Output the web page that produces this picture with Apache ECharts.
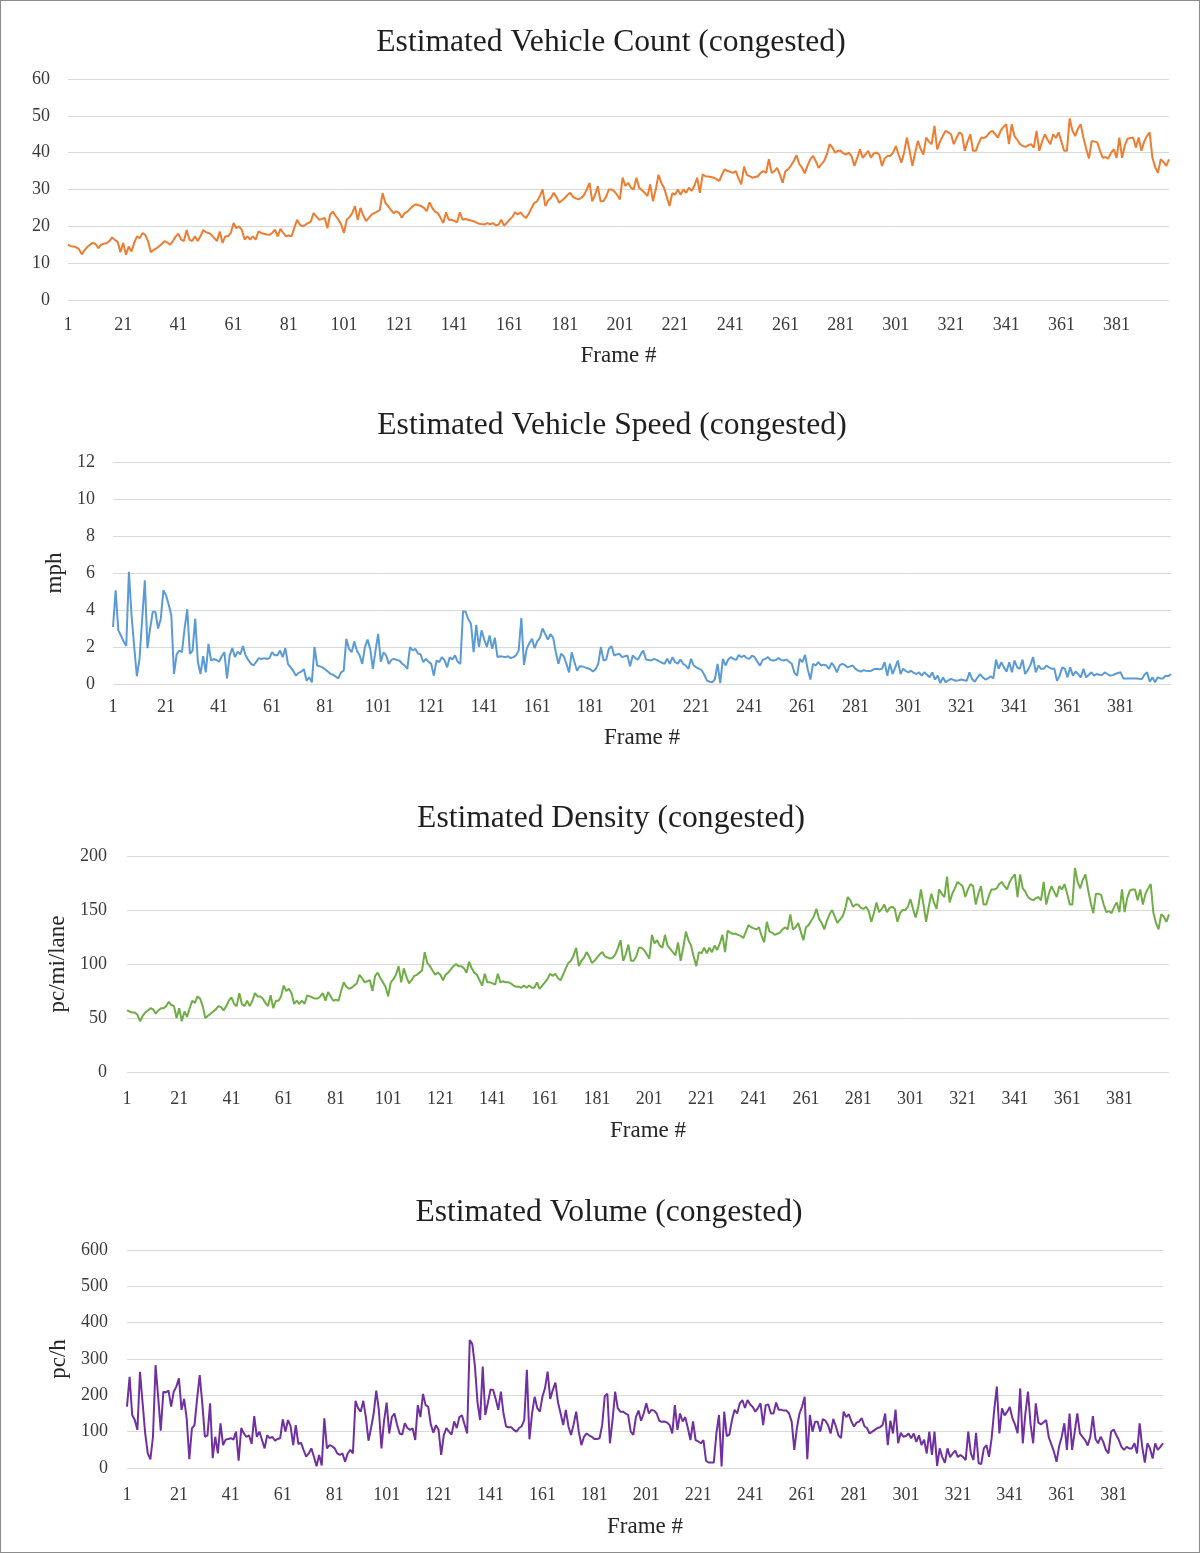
<!DOCTYPE html>
<html><head><meta charset="utf-8">
<script src="https://cdn.jsdelivr.net/npm/echarts@6/dist/echarts.min.js"></script>
<style>
html,body{margin:0;padding:0;background:#fff;}
#c{position:absolute;left:0;top:0;width:1200px;height:1553px;}
#b{position:absolute;left:0;top:0;width:1200px;height:1553px;box-sizing:border-box;border:1px solid #8c8c8c;pointer-events:none;}
</style></head><body><div id="c"></div><div id="b"></div>
<script>
const frames = Array.from({length: 400}, (_, i) => String(i + 1));

const vehicleCount = [
15.0,14.6,14.5,14.3,13.8,12.4,13.5,14.4,15.0,15.5,15.2,14.1,15.0,15.3,15.4,16.0,17.0,16.3,15.8,13.0,
15.5,12.3,14.5,13.2,15.5,17.3,16.8,18.2,17.7,16.0,13.0,13.6,14.0,14.6,15.2,16.0,15.6,15.0,16.0,17.2,
18.0,16.4,16.0,19.0,16.4,16.0,17.3,16.0,17.3,19.0,18.4,18.2,17.7,16.8,16.0,18.6,15.5,17.3,17.3,18.2,
20.9,19.5,20.0,19.0,16.4,17.3,16.4,17.3,16.4,18.6,18.2,18.0,17.8,17.7,18.2,19.1,17.3,19.3,18.2,17.3,
17.5,17.3,19.5,21.8,20.5,20.0,20.4,20.9,21.3,23.6,22.7,21.8,22.0,22.3,19.5,23.2,24.0,22.8,21.8,20.5,
18.2,21.8,22.5,23.6,25.5,21.8,25.0,23.0,21.4,22.3,23.2,23.6,24.0,24.5,29.0,26.4,25.5,24.5,23.6,24.1,
23.6,22.3,23.6,24.0,24.8,25.5,26.0,25.7,25.5,25.0,24.1,26.5,25.0,24.0,23.6,22.3,20.9,23.8,21.8,21.8,
21.5,21.1,23.8,21.8,22.0,21.8,21.6,21.4,21.0,20.7,20.6,20.5,20.9,20.5,20.9,20.3,20.4,21.8,20.2,20.9,
21.8,22.5,23.8,23.2,23.8,22.8,22.3,23.5,25.0,26.4,26.8,28.2,30.0,25.5,27.0,27.7,29.1,28.0,26.4,27.0,
27.7,28.5,29.1,28.0,27.6,27.3,27.7,28.5,30.0,31.8,26.8,28.5,30.9,26.8,26.8,28.0,30.0,30.0,29.5,28.5,
27.3,33.2,31.0,31.8,30.5,30.0,33.2,30.5,29.8,29.1,28.2,31.4,26.8,30.0,34.0,31.8,30.5,28.0,25.5,29.0,
28.6,30.0,28.6,30.0,29.1,30.5,29.6,31.0,33.2,29.1,34.1,33.6,33.5,33.4,33.2,32.8,32.3,34.0,35.5,35.0,
34.8,34.5,35.0,33.0,31.4,36.2,34.0,33.6,33.2,33.4,33.6,34.5,35.0,34.5,38.2,34.5,35.0,35.9,34.0,31.8,
35.0,35.5,36.5,37.7,39.3,37.0,35.9,34.4,36.5,38.2,39.1,37.7,35.9,36.8,37.7,39.5,42.3,41.4,40.0,40.5,
40.5,39.8,39.5,40.0,39.0,36.4,38.5,40.9,38.6,39.5,40.5,38.6,39.8,40.0,39.5,36.4,38.5,39.1,39.1,40.0,
41.8,39.5,37.3,40.0,44.1,40.5,36.4,40.0,43.2,41.0,39.5,44.1,43.0,42.3,47.3,40.9,43.0,44.5,45.9,45.5,
45.0,42.3,44.0,45.5,45.0,40.5,43.0,45.0,40.5,40.5,42.5,44.1,44.0,44.5,45.5,45.9,45.0,44.1,45.9,47.0,
47.7,42.3,47.7,44.5,43.5,42.3,41.8,41.6,42.0,42.3,41.4,45.9,40.5,43.0,45.0,43.5,42.3,45.0,44.0,45.5,
43.0,40.5,40.5,49.3,46.0,44.5,46.5,47.7,44.0,41.0,38.4,43.2,43.0,42.8,40.5,38.6,38.8,38.4,40.0,40.9,
38.6,44.1,38.6,42.0,43.8,44.0,44.1,41.4,44.1,40.5,43.0,44.5,45.5,38.6,36.0,34.5,38.2,37.5,36.4,38.2
];

const vehicleSpeed = [
3.08,5.07,2.9,2.62,2.3,2.05,6.06,3.7,2.0,0.42,1.36,3.5,5.6,1.94,3.0,3.9,3.9,3.0,3.5,5.07,
4.8,4.3,3.7,0.54,1.6,1.81,1.72,3.0,4.04,1.63,1.8,3.53,1.2,0.54,1.5,0.63,2.17,1.27,1.35,1.3,
1.2,1.5,1.72,0.3,1.55,1.94,1.45,1.75,1.6,2.05,1.55,1.3,1.1,1.0,1.2,1.4,1.35,1.4,1.35,1.4,
1.72,1.55,1.55,1.81,1.45,1.94,1.08,0.9,0.7,0.45,0.6,0.67,0.8,0.18,0.36,0.09,2.0,1.0,0.95,0.9,
0.8,0.67,0.55,0.5,0.4,0.3,0.63,0.72,2.44,1.9,1.72,2.3,1.8,1.55,1.09,2.0,2.4,1.9,0.82,1.8,
2.71,1.2,1.7,1.55,1.09,1.3,1.36,1.3,1.27,1.1,1.0,0.82,2.0,1.81,1.9,1.65,1.6,1.18,1.36,1.2,
1.09,0.45,1.27,1.18,1.45,1.3,0.9,1.45,1.32,1.55,1.2,1.09,3.93,3.9,3.5,3.26,1.72,3.2,2.0,2.9,
2.4,2.0,2.62,1.9,2.5,1.45,1.5,1.48,1.45,1.5,1.4,1.45,1.55,1.81,3.57,1.03,1.9,2.2,2.44,1.94,
2.3,2.5,3.0,2.7,2.4,2.7,2.5,1.72,1.09,1.63,1.5,1.09,0.63,1.72,1.2,0.72,0.96,0.95,0.9,0.85,
0.8,0.67,0.8,1.09,2.0,1.27,1.32,1.9,2.05,1.54,1.6,1.63,1.45,1.5,1.54,0.96,1.54,1.4,1.32,1.6,
1.81,1.32,1.3,1.27,1.36,1.3,1.22,1.15,1.09,1.36,1.09,1.45,1.18,1.1,1.32,1.09,1.0,0.82,1.36,1.0,
0.9,0.82,0.75,0.5,0.18,0.12,0.09,0.27,1.09,0.05,1.36,1.0,1.32,1.45,1.36,1.3,1.57,1.45,1.54,1.4,
1.36,1.54,1.45,1.2,0.99,1.3,1.36,1.45,1.3,1.27,1.3,1.4,1.3,1.27,1.32,1.2,1.09,0.6,0.45,1.36,
1.18,1.57,0.8,0.24,1.09,1.0,1.18,1.0,1.05,1.0,0.82,1.14,0.95,0.63,1.0,1.09,1.03,0.9,0.95,1.0,
0.82,0.72,0.67,0.75,0.72,0.7,0.72,0.8,0.82,0.8,0.82,1.18,0.45,1.09,0.54,0.9,1.27,0.54,0.82,0.7,
0.63,0.72,0.6,0.54,0.63,0.45,0.63,0.5,0.36,0.63,0.24,0.45,0.05,0.36,0.09,0.2,0.27,0.22,0.18,0.2,
0.24,0.2,0.18,0.63,0.27,0.12,0.35,0.54,0.36,0.24,0.3,0.42,0.3,1.32,0.82,1.18,0.9,0.67,1.18,0.63,
1.27,0.9,0.82,1.32,0.54,0.75,1.03,1.45,0.63,1.0,0.82,0.82,1.0,0.9,0.82,0.82,0.18,0.45,0.9,0.82,
0.36,0.9,0.45,0.67,0.54,0.36,0.82,0.36,0.5,0.63,0.45,0.54,0.5,0.48,0.63,0.54,0.45,0.48,0.54,0.6,
0.63,0.3,0.3,0.3,0.3,0.3,0.3,0.28,0.27,0.5,0.63,0.12,0.36,0.09,0.36,0.3,0.3,0.45,0.42,0.54
];

const density = [
57,56,55,55,53,47,52,55,57,59,58,54,57,59,59,61,65,62,61,50,
59,47,56,51,59,66,64,70,68,61,50,52,54,56,58,61,60,57,61,66,
69,63,61,73,63,61,66,61,66,73,70,70,68,64,61,71,59,66,66,70,
80,75,77,73,63,66,63,66,63,71,70,69,68,68,70,73,66,74,70,66,
67,66,75,83,79,77,78,80,82,90,87,83,84,85,75,89,92,87,83,79,
70,83,86,90,98,83,96,88,82,85,89,90,92,94,111,101,98,94,90,92,
90,85,90,92,95,98,100,98,98,96,92,102,96,92,90,85,80,91,83,83,
82,81,91,83,84,83,83,82,80,79,79,78,80,78,80,78,78,83,77,80,
83,86,91,89,91,87,85,90,96,101,103,108,115,98,103,106,111,107,101,103,
106,109,111,107,106,105,106,109,115,122,103,109,118,103,103,107,115,115,113,109,
105,127,119,122,117,115,127,117,114,111,108,120,103,115,130,122,117,107,98,111,
110,115,110,115,111,117,113,119,127,111,131,129,128,128,127,126,124,130,136,134,
133,132,134,126,120,139,130,129,127,128,129,132,134,132,146,132,134,138,130,122,
134,136,140,144,151,142,138,132,140,146,150,144,138,141,144,151,162,159,153,155,
155,152,151,153,149,139,147,157,148,151,155,148,152,153,151,139,147,150,150,153,
160,151,143,153,169,155,139,153,165,157,151,169,165,162,181,157,165,170,176,174,
172,162,169,174,172,155,165,172,155,155,163,169,169,170,174,176,172,169,176,180,
183,162,183,170,167,162,160,159,161,162,159,176,155,165,172,167,162,172,169,174,
165,155,155,189,176,170,178,183,169,157,147,165,165,164,155,148,149,147,153,157,
148,169,148,161,168,169,169,159,169,155,165,170,174,148,138,132,146,144,139,146
];

const volume = [
169,251,146,132,105,265,180,95,40,24,86,283,196,103,210,208,213,169,210,224,
247,160,190,135,24,109,118,190,256,178,86,90,178,27,86,40,123,63,78,80,
82,78,100,20,110,95,86,90,66,143,86,100,77,54,90,82,86,75,80,82,
134,100,132,115,63,118,66,70,50,31,40,54,31,5,36,7,137,54,63,60,
54,40,36,40,17,40,50,40,185,165,155,185,140,75,110,150,213,160,54,130,
180,95,140,150,120,95,92,123,110,105,109,77,173,140,204,173,169,120,97,118,
105,36,90,110,100,92,128,110,140,145,120,95,352,341,280,180,132,279,146,180,
216,215,190,160,210,150,114,112,112,105,100,110,115,132,270,79,150,196,165,155,
196,220,265,190,215,235,180,150,118,160,115,91,120,155,100,63,86,95,90,86,
80,80,82,118,198,204,68,132,210,165,155,155,150,146,100,91,140,158,130,150,
178,150,160,158,150,130,127,128,125,118,95,173,105,150,128,140,110,77,128,77,
73,68,77,20,15,15,15,95,146,4,155,88,92,132,160,150,178,187,165,187,
175,168,155,165,178,118,173,175,150,150,180,160,160,158,158,150,127,50,110,150,
169,196,24,146,100,127,127,100,135,130,118,95,135,115,90,82,155,140,148,128,
114,125,128,137,115,110,95,100,105,110,112,118,150,63,130,95,161,68,97,86,
88,95,82,95,72,90,63,78,40,100,36,100,6,54,30,14,54,30,40,48,
30,36,30,22,100,40,22,97,13,11,54,63,31,82,160,224,95,164,145,155,
168,137,120,96,219,68,150,210,120,68,178,125,120,126,132,85,65,45,17,60,
86,123,50,150,50,100,150,95,86,77,62,86,143,80,68,86,72,50,40,100,
106,91,77,58,50,58,54,54,68,40,123,58,15,68,54,26,68,50,58,68
];

const chartTitles = [
  'Estimated Vehicle Count (congested)',
  'Estimated Vehicle Speed (congested)',
  'Estimated Density (congested)',
  'Estimated Volume (congested)'
];
const yAxisNames = ['', 'mph', 'pc/mi/lane', 'pc/h'];
const xAxisName = 'Frame #';
const yMax = [60, 12, 200, 600];
const yStep = [10, 2, 50, 100];
const seriesData = [vehicleCount, vehicleSpeed, density, volume];
const seriesNames = ['Vehicle Count', 'Vehicle Speed', 'Density', 'Volume'];

// layout / style
const colors = ['#ED7D31', '#5B9BD5', '#70AD47', '#7030A0'];
const FONT = '"Liberation Serif", "Times New Roman", serif';
const grids = [
  {left: 68,  top: 79,   width: 1101, height: 221},
  {left: 113, top: 462,  width: 1058, height: 222},
  {left: 127, top: 856,  width: 1042, height: 216},
  {left: 127, top: 1250, width: 1036, height: 218}
];
const titleY = [43, 426, 819, 1213];
const titleX = [611, 612, 611, 609];
const xLabelMargin = [16, 14, 18, 18];
const xNameGap = [44, 42, 47, 47];
const yLabelMargin = [18, 18, 20, 19];
const yNameGap = [0, 41, 57, 57];

const chart = echarts.init(document.getElementById('c'), null, {renderer: 'canvas'});
const option = {
  animation: false,
  backgroundColor: '#ffffff',
  title: chartTitles.map((t, i) => ({
    text: t, left: titleX[i], top: titleY[i], padding: 0,
    textAlign: 'center', textVerticalAlign: 'middle',
    textStyle: {fontFamily: FONT, fontSize: 31.6, fontWeight: 'normal', color: '#1f1f1f'}
  })),
  grid: grids.map(g => Object.assign({containLabel: false, outerBoundsMode: 'none'}, g)),
  xAxis: grids.map((g, i) => ({
    type: 'category', gridIndex: i, data: frames, boundaryGap: false,
    name: xAxisName, nameLocation: 'middle', nameGap: xNameGap[i],
    nameTextStyle: {fontFamily: FONT, fontSize: 23, color: '#262626'},
    axisLine: {show: false}, axisTick: {show: false}, splitLine: {show: false},
    axisLabel: {interval: 19, margin: xLabelMargin[i], fontFamily: FONT, fontSize: 18, color: '#3a3a3a'}
  })),
  yAxis: grids.map((g, i) => ({
    type: 'value', gridIndex: i, min: 0, max: yMax[i], interval: yStep[i],
    name: yAxisNames[i], nameLocation: 'middle', nameGap: yNameGap[i], nameRotate: 90,
    nameTextStyle: {fontFamily: FONT, fontSize: 23, color: '#262626'},
    axisLine: {show: false}, axisTick: {show: false},
    splitLine: {show: true, lineStyle: {color: '#D9D9D9', width: 1}},
    axisLabel: {margin: yLabelMargin[i], fontFamily: FONT, fontSize: 18, color: '#3a3a3a'}
  })),
  series: seriesData.map((d, i) => ({
    name: seriesNames[i], type: 'line', xAxisIndex: i, yAxisIndex: i, data: d,
    symbol: 'none', showSymbol: false,
    lineStyle: {color: colors[i], width: 2}, itemStyle: {color: colors[i]}
  }))
};
chart.setOption(option);
</script>
</body></html>
